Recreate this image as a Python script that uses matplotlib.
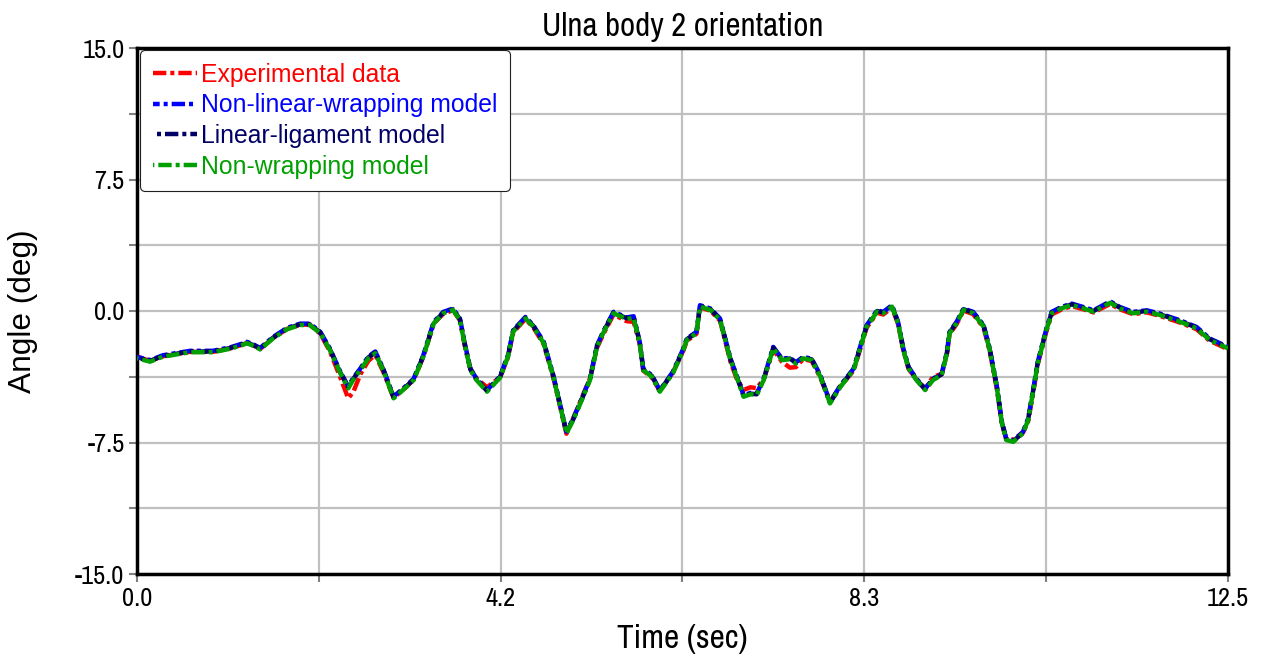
import matplotlib
matplotlib.use("Agg")
import matplotlib.pyplot as plt

plt.rcParams['font.family'] = ['Archivo Narrow', 'Liberation Sans', 'DejaVu Sans']
WIDE = ['Liberation Sans', 'DejaVu Sans']

# Time samples (sec)
time_s = [0.00, 0.15, 0.30, 0.61, 0.87, 1.07, 1.20, 1.26, 1.34, 1.41, 1.56, 1.72,
          1.87, 1.98, 2.10, 2.21, 2.33, 2.42, 2.48, 2.56, 2.65, 2.73, 2.82, 2.94,
          3.09, 3.17, 3.28, 3.40, 3.51, 3.62, 3.70, 3.76, 3.82, 3.89, 4.01, 4.16,
          4.25, 4.31, 4.38, 4.45, 4.54, 4.66, 4.77, 4.85, 4.92, 5.00, 5.08, 5.19,
          5.27, 5.34, 5.46, 5.61, 5.69, 5.76, 5.80, 5.90, 5.99, 6.14, 6.26, 6.30,
          6.41, 6.45, 6.57, 6.68, 6.80, 6.87, 6.95, 7.03, 7.10, 7.18, 7.29, 7.39,
          7.48, 7.55, 7.63, 7.73, 7.83, 7.94, 8.06, 8.21, 8.29, 8.36, 8.48, 8.55,
          8.65, 8.72, 8.78, 8.84, 8.93, 9.03, 9.12, 9.22, 9.28, 9.31, 9.39, 9.47,
          9.58, 9.70, 9.77, 9.85, 9.91, 9.96, 10.04, 10.15, 10.21, 10.27, 10.32,
          10.38, 10.42, 10.48, 10.59, 10.71, 10.84, 10.96, 11.15, 11.26, 11.41,
          11.57, 11.72, 11.95, 12.14, 12.29, 12.50]

# Non-wrapping model (green)
green_vals = [-2.70, -2.89, -2.60, -2.35, -2.35, -2.15, -1.95, -1.84, -2.00, -2.19, -1.56, -1.04,
              -0.80, -0.80, -1.27, -2.22, -3.55, -4.41, -3.90, -3.37, -2.70, -2.41, -3.37, -4.98,
              -4.32, -3.94, -2.61, -0.70, -0.13, 0.06, -0.51, -2.04, -3.37, -3.94, -4.60, -3.80,
              -2.61, -1.18, -0.80, -0.42, -0.89, -1.84, -3.75, -5.46, -6.98, -6.20, -5.27, -3.94,
              -2.04, -1.27, -0.13, -0.45, -0.40, -1.84, -3.37, -3.75, -4.60, -3.55, -2.22, -1.65,
              -1.27, 0.25, 0.06, -0.51, -2.80, -3.75, -4.89, -4.75, -4.79, -3.94, -2.13, -2.80,
              -2.75, -3.00, -2.70, -2.80, -3.75, -5.27, -4.32, -3.37, -2.04, -0.89, -0.04, -0.13,
              0.25, -0.70, -2.22, -3.27, -3.94, -4.51, -3.94, -3.65, -2.41, -1.27, -0.70, 0.06,
              -0.13, -0.89, -2.22, -4.32, -6.41, -7.36, -7.46, -6.98, -6.22, -4.51, -2.99,
              -1.84, -1.08, -0.13, 0.15, 0.34, 0.15, -0.04, 0.47, 0.15, -0.13,
              -0.04, -0.23, -0.61, -0.99, -1.65, -2.13]

# Non-linear-wrapping model (blue)
blue_vals = [-2.62, -2.80, -2.52, -2.27, -2.27, -2.07, -1.87, -1.76, -1.92, -2.11, -1.48, -0.96,
             -0.72, -0.72, -1.19, -2.14, -3.47, -4.30, -3.80, -3.27, -2.60, -2.31, -3.28, -4.88,
             -4.24, -3.86, -2.53, -0.62, -0.05, 0.14, -0.43, -1.96, -3.29, -3.86, -4.52, -3.72,
             -2.53, -1.10, -0.72, -0.34, -0.81, -1.76, -3.67, -5.38, -6.88, -6.12, -5.19, -3.86,
             -1.96, -1.19, -0.05, -0.37, -0.30, -1.76, -3.29, -3.67, -4.52, -3.47, -2.14, -1.57,
             -1.19, 0.33, 0.14, -0.43, -2.72, -3.67, -4.81, -4.67, -4.71, -3.86, -2.05, -2.72,
             -2.67, -2.92, -2.62, -2.72, -3.67, -5.19, -4.24, -3.29, -1.96, -0.81, 0.04, -0.05,
             0.33, -0.62, -2.14, -3.19, -3.86, -4.43, -3.86, -3.57, -2.33, -1.19, -0.62, 0.14,
             -0.05, -0.81, -2.14, -4.24, -6.33, -7.28, -7.38, -6.90, -6.14, -4.43, -2.91,
             -1.76, -1.00, -0.05, 0.23, 0.42, 0.23, 0.04, 0.55, 0.23, -0.05,
             0.04, -0.15, -0.53, -0.91, -1.57, -2.05]

# Linear-ligament model (navy)
navy_vals = [-2.66, -2.84, -2.56, -2.31, -2.31, -2.11, -1.91, -1.80, -1.96, -2.15, -1.52, -1.00,
             -0.76, -0.76, -1.23, -2.18, -3.51, -4.35, -3.85, -3.32, -2.65, -2.36, -3.32, -4.93,
             -4.28, -3.90, -2.57, -0.66, -0.09, 0.10, -0.47, -2.00, -3.33, -3.90, -4.56, -3.76,
             -2.57, -1.14, -0.76, -0.38, -0.85, -1.80, -3.71, -5.42, -6.93, -6.16, -5.23, -3.90,
             -2.00, -1.23, -0.09, -0.41, -0.35, -1.80, -3.33, -3.71, -4.56, -3.51, -2.18, -1.61,
             -1.23, 0.29, 0.10, -0.47, -2.76, -3.71, -4.85, -4.71, -4.75, -3.90, -2.09, -2.76,
             -2.71, -2.96, -2.66, -2.76, -3.71, -5.23, -4.28, -3.33, -2.00, -0.85, 0.00, -0.09,
             0.29, -0.66, -2.18, -3.23, -3.90, -4.47, -3.90, -3.61, -2.37, -1.23, -0.66, 0.10,
             -0.09, -0.85, -2.18, -4.28, -6.37, -7.32, -7.42, -6.94, -6.18, -4.47, -2.95,
             -1.80, -1.04, -0.09, 0.19, 0.38, 0.19, 0.00, 0.51, 0.19, -0.09,
             0.00, -0.19, -0.57, -0.95, -1.61, -2.09]

# Experimental data (red)
exp_vals = [-2.60, -2.85, -2.58, -2.33, -2.33, -2.13, -1.93, -1.82, -1.98, -2.17, -1.54, -1.02,
            -0.78, -0.78, -1.30, -2.30, -3.80, -4.98, -4.60, -3.60, -2.85, -2.50, -3.45, -4.95,
            -4.30, -3.92, -2.62, -0.72, -0.15, 0.04, -0.53, -2.10, -3.30, -3.85, -4.35, -3.78,
            -2.65, -1.22, -0.84, -0.46, -0.93, -1.90, -3.80, -5.50, -7.00, -6.10, -5.15, -3.85,
            -2.10, -1.35, -0.20, -0.58, -0.62, -1.86, -3.40, -3.80, -4.55, -3.50, -2.25, -1.70,
            -1.30, 0.20, 0.02, -0.55, -2.90, -3.85, -4.50, -4.35, -4.40, -3.90, -2.20, -2.90,
            -3.23, -3.20, -2.75, -2.85, -3.80, -5.20, -4.30, -3.40, -2.10, -0.95, -0.10, -0.20,
            0.20, -0.75, -2.25, -3.30, -3.90, -4.45, -3.75, -3.60, -2.45, -1.32, -0.75, 0.02,
            -0.18, -0.95, -2.30, -4.40, -6.45, -7.30, -7.35, -6.95, -6.30, -4.60, -3.05,
            -1.90, -1.15, -0.20, 0.08, 0.28, 0.10, -0.08, 0.40, 0.10, -0.18,
            -0.08, -0.28, -0.66, -1.04, -1.70, -2.18]

series_labels = ["Experimental data", "Non-linear-wrapping model",
                 "Linear-ligament model", "Non-wrapping model"]
series_colors = ["#ff0000", "#0000ff", "#000066", "#00a000"]
series_values = [exp_vals, blue_vals, navy_vals, green_vals]

x_ticks = [0.0, 12.5 / 6, 12.5 * 2 / 6, 12.5 * 3 / 6, 12.5 * 4 / 6, 12.5 * 5 / 6, 12.5]
x_tick_labels = ["0.0", "", "4.2", "", "8.3", "", "12.5"]
y_ticks = [-15.0, -11.25, -7.5, -3.75, 0.0, 3.75, 7.5, 11.25, 15.0]
y_tick_labels = ["-15.0", "", "-7.5", "", "0.0", "", "7.5", "", "15.0"]

fig = plt.figure(figsize=(12.72, 6.60), dpi=100)
ax = fig.add_axes([137 / 1272, 1 - 574 / 660, (1228 - 137) / 1272, (574 - 48) / 660])

dash_pat = (3, 0.9, 0.9, 0.9)
dash_offsets = [0, 1.5, 3.0, 4.5]
for vals, lab, col, off in zip(series_values, series_labels, series_colors, dash_offsets):
    ax.plot(time_s, vals, color=col, lw=3.2, label=lab,
            linestyle=(off, dash_pat), dash_capstyle='butt', zorder=3)

ax.set_xlim(0, 12.5)
ax.set_ylim(-15, 15)
ax.set_xticks(x_ticks)
ax.set_xticklabels(x_tick_labels)
ax.set_yticks(y_ticks)
ax.set_yticklabels(y_tick_labels)
ax.grid(True, color="#c0c0c0", lw=1.6, zorder=0)
ax.set_axisbelow(True)
ax.tick_params(axis='both', direction='out', length=6, width=1.5, color='#808080',
               labelsize=19, pad=3)
for sp in ax.spines.values():
    sp.set_color('black')
    sp.set_linewidth(2.5)

ax.set_title("Ulna body 2 orientation", fontsize=23.7, pad=9)
ax.set_xlabel("Time (sec)", fontsize=24, labelpad=10.5)
ax.set_ylabel("Angle (deg)", fontsize=22.8, family=WIDE)
ax.yaxis.set_label_coords(-0.0907, 0.5)

leg = ax.legend(loc='upper left', bbox_to_anchor=(0.00275, 0.9962),
                prop={'family': WIDE, 'size': 17.8},
                frameon=True, fancybox=True, edgecolor='#202020', framealpha=1,
                handlelength=1.8, handletextpad=0.15, labelspacing=0.265,
                borderpad=0.52, borderaxespad=0.0)
leg.get_frame().set_linewidth(0.8)
for txt, col in zip(leg.get_texts(), series_colors):
    txt.set_color(col)

fig.savefig("out.png", dpi=100)
